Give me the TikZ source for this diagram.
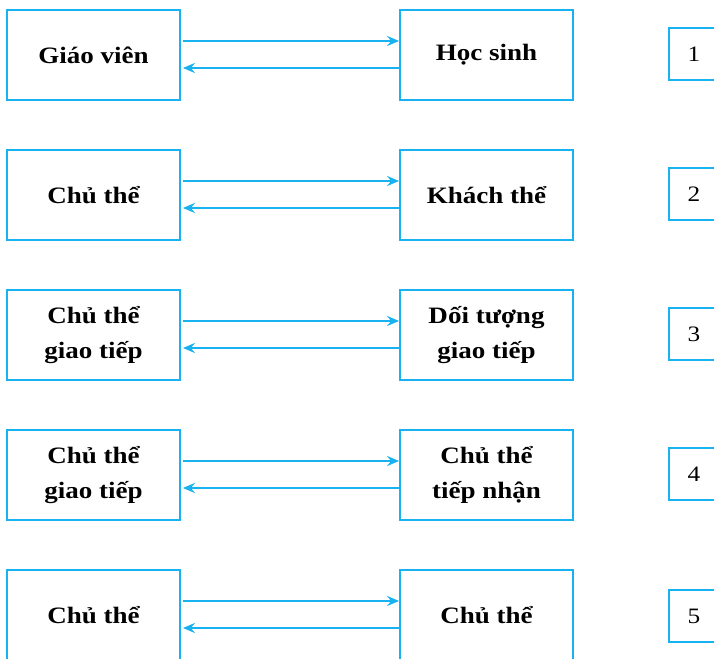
\documentclass[tikz,border=0pt]{standalone}
\usepackage{fontspec}
\setmainfont{Liberation Serif}[FakeStretch=1.15]
\usetikzlibrary{arrows.meta}
\definecolor{cy}{RGB}{25,178,240}
\begin{document}
\begin{tikzpicture}[x=1pt,y=1pt,
  lbox/.style={draw=cy,line width=1.8pt,minimum width=173pt,minimum height=90pt,inner sep=0pt,align=center,
    font=\fontsize{23.5}{35}\selectfont\bfseries},
  nbox/.style={draw=cy,line width=1.8pt,minimum width=50pt,minimum height=52pt,inner sep=0pt,
    font=\fontsize{22}{26}\selectfont},
  arr/.style={draw=cy,line width=2pt,-{Stealth[length=12pt,width=10pt,inset=4pt]}}]
\useasboundingbox (0,0) rectangle (714,658);
% row 1
\node[lbox] (a1) at (93.5,603) {Giáo viên};
\node[lbox] (b1) at (486.5,603) {Học sinh};
\node[nbox] (n1) at (694,604) {1};
% row 2
\node[lbox] (a2) at (93.5,463) {Chủ thể};
\node[lbox] (b2) at (486.5,463) {Khách thể};
\node[nbox] (n2) at (694,464) {2};
% row 3
\node[lbox] (a3) at (93.5,323) {Chủ thể\\giao tiếp};
\node[lbox] (b3) at (486.5,323) {Dối tượng\\giao tiếp};
\node[nbox] (n3) at (694,324) {3};
% row 4
\node[lbox] (a4) at (93.5,183) {Chủ thể\\giao tiếp};
\node[lbox] (b4) at (486.5,183) {Chủ thể\\tiếp nhận};
\node[nbox] (n4) at (694,184) {4};
% row 5
\node[lbox] (a5) at (93.5,43) {Chủ thể};
\node[lbox] (b5) at (486.5,43) {Chủ thể};
\node[nbox] (n5) at (694,42) {5};
% arrows
\foreach \i in {1,...,5}{
  \draw[arr,shorten <=2pt] ([yshift=14pt]a\i.east) -- ([yshift=14pt]b\i.west);
  \draw[arr,shorten >=2pt] ([yshift=-13pt]b\i.west) -- ([yshift=-13pt]a\i.east);
}
\end{tikzpicture}
\end{document}
